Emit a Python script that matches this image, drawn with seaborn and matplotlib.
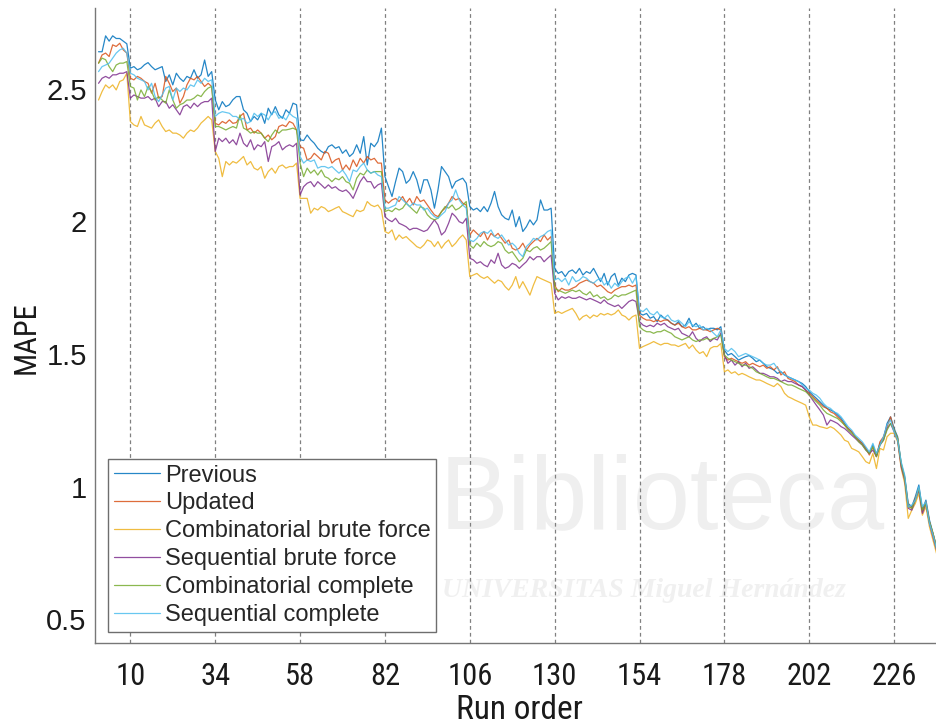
import matplotlib
matplotlib.use("Agg")
import matplotlib.pyplot as plt
import seaborn as sns
import pandas as pd

# Run index and MAPE per configuration
runs = list(range(1, 239))

previous = [
    2.64, 2.64, 2.70, 2.68, 2.70, 2.69, 2.69, 2.68, 2.67,
    2.578, 2.584, 2.572, 2.578, 2.591, 2.599, 2.584, 2.572, 2.578, 2.584, 2.528, 2.553,
    2.515, 2.559, 2.540, 2.528, 2.547, 2.540, 2.572, 2.540, 2.553, 2.609, 2.547, 2.565,
    2.459, 2.421, 2.452, 2.433, 2.440, 2.459, 2.471, 2.471, 2.421, 2.408, 2.377, 2.396,
    2.383, 2.408, 2.370, 2.427, 2.402, 2.433, 2.402, 2.389, 2.421, 2.408, 2.446, 2.440,
    2.308, 2.305, 2.326, 2.308, 2.295, 2.276, 2.264, 2.257, 2.282, 2.289, 2.276, 2.282,
    2.257, 2.270, 2.245, 2.257, 2.289, 2.257, 2.320, 2.213, 2.295, 2.282, 2.301, 2.352,
    2.169, 2.131, 2.094, 2.150, 2.201, 2.188, 2.144, 2.157, 2.188, 2.157, 2.106, 2.157,
    2.157, 2.119, 2.050, 2.119, 2.207, 2.188, 2.169, 2.125, 2.150, 2.157, 2.163, 2.144,
    2.056, 2.043, 2.050, 2.037, 2.056, 2.037, 2.069, 2.113, 2.056, 2.025, 2.012, 2.006,
    2.043, 1.980, 2.018, 1.962, 1.980, 2.006, 1.987, 2.006, 2.081, 2.043, 2.043, 2.050,
    1.823, 1.804, 1.811, 1.792, 1.811, 1.817, 1.804, 1.823, 1.798, 1.811, 1.804, 1.823,
    1.798, 1.773, 1.804, 1.760, 1.792, 1.804, 1.760, 1.786, 1.773, 1.798, 1.804, 1.798,
    1.653, 1.647, 1.653, 1.635, 1.641, 1.622, 1.647, 1.635, 1.628, 1.616, 1.609, 1.622,
    1.603, 1.609, 1.635, 1.603, 1.616, 1.597, 1.603, 1.591, 1.597, 1.597, 1.591, 1.603,
    1.515, 1.496, 1.502, 1.490, 1.477, 1.484, 1.490, 1.494, 1.484, 1.471, 1.477, 1.465,
    1.452, 1.446, 1.440, 1.427, 1.433, 1.421, 1.414, 1.408, 1.402, 1.396, 1.389, 1.377,
    1.358, 1.345, 1.333, 1.320, 1.307, 1.295, 1.289, 1.282, 1.270, 1.257, 1.238, 1.219,
    1.207, 1.188, 1.175, 1.163, 1.144, 1.125, 1.157, 1.119, 1.163, 1.182, 1.238, 1.263,
    1.219, 1.188, 1.087, 1.037, 0.936, 0.924, 0.962, 1.006, 0.911, 0.949, 0.874, 0.823, 0.773,
]

updated = [
    2.597, 2.628, 2.635, 2.622, 2.666, 2.660, 2.672, 2.647, 2.635,
    2.540, 2.534, 2.547, 2.540, 2.528, 2.521, 2.484, 2.521, 2.465, 2.471, 2.547, 2.521,
    2.490, 2.503, 2.446, 2.471, 2.515, 2.540, 2.534, 2.547, 2.528, 2.509, 2.521, 2.509,
    2.370, 2.364, 2.377, 2.370, 2.383, 2.370, 2.373, 2.396, 2.408, 2.345, 2.352, 2.333,
    2.345, 2.333, 2.314, 2.326, 2.308, 2.320, 2.358, 2.364, 2.358, 2.377, 2.370, 2.345,
    2.282, 2.276, 2.232, 2.238, 2.257, 2.245, 2.232, 2.264, 2.257, 2.220, 2.232, 2.238,
    2.194, 2.213, 2.194, 2.232, 2.207, 2.238, 2.220, 2.245, 2.232, 2.238, 2.220, 2.220,
    2.081, 2.069, 2.081, 2.087, 2.075, 2.094, 2.069, 2.087, 2.062, 2.094, 2.075, 2.081,
    2.062, 2.043, 2.025, 2.018, 2.037, 2.050, 2.069, 2.094, 2.081, 2.087, 2.069, 2.062,
    1.949, 1.968, 1.955, 1.943, 1.962, 1.930, 1.955, 1.943, 1.955, 1.936, 1.918, 1.930,
    1.899, 1.892, 1.899, 1.918, 1.892, 1.911, 1.924, 1.936, 1.924, 1.949, 1.930, 1.943,
    1.760, 1.735, 1.748, 1.741, 1.741, 1.748, 1.754, 1.767, 1.773, 1.779, 1.773, 1.767,
    1.754, 1.760, 1.748, 1.735, 1.729, 1.741, 1.748, 1.754, 1.754, 1.760, 1.754, 1.760,
    1.647, 1.635, 1.628, 1.628, 1.622, 1.628, 1.622, 1.628, 1.628, 1.616, 1.609, 1.616,
    1.603, 1.597, 1.603, 1.591, 1.591, 1.597, 1.591, 1.591, 1.584, 1.591, 1.597, 1.591,
    1.490, 1.477, 1.484, 1.477, 1.471, 1.465, 1.471, 1.458, 1.465, 1.458, 1.452, 1.458,
    1.446, 1.452, 1.440, 1.452, 1.421, 1.433, 1.408, 1.402, 1.396, 1.383, 1.377, 1.364,
    1.352, 1.339, 1.326, 1.314, 1.301, 1.295, 1.282, 1.276, 1.263, 1.251, 1.232, 1.219,
    1.207, 1.188, 1.175, 1.163, 1.144, 1.119, 1.150, 1.113, 1.169, 1.188, 1.226, 1.263,
    1.213, 1.182, 1.081, 1.031, 0.930, 0.918, 0.955, 0.993, 0.905, 0.943, 0.867, 0.823, 0.773,
]

combinatorial_brute_force = [
    2.458, 2.490, 2.515, 2.503, 2.515, 2.496, 2.528, 2.534, 2.559,
    2.377, 2.364, 2.358, 2.396, 2.364, 2.358, 2.352, 2.371, 2.383, 2.358, 2.339, 2.345,
    2.333, 2.333, 2.326, 2.314, 2.333, 2.345, 2.339, 2.352, 2.371, 2.383, 2.396, 2.383,
    2.264, 2.238, 2.169, 2.226, 2.213, 2.226, 2.220, 2.232, 2.245, 2.213, 2.226, 2.201,
    2.194, 2.207, 2.163, 2.188, 2.201, 2.182, 2.207, 2.213, 2.201, 2.207, 2.207, 2.220,
    2.087, 2.087, 2.087, 2.031, 2.050, 2.043, 2.056, 2.050, 2.037, 2.043, 2.050, 2.056,
    2.037, 2.031, 2.024, 2.018, 2.043, 2.037, 2.043, 2.075, 2.062, 2.056, 2.062, 2.043,
    1.962, 1.955, 1.968, 1.930, 1.949, 1.936, 1.943, 1.930, 1.918, 1.905, 1.899, 1.911,
    1.930, 1.924, 1.905, 1.924, 1.899, 1.918, 1.930, 1.905, 1.918, 1.936, 1.949, 1.930,
    1.792, 1.798, 1.804, 1.792, 1.785, 1.792, 1.779, 1.767, 1.779, 1.773, 1.754, 1.741,
    1.760, 1.792, 1.748, 1.773, 1.748, 1.722, 1.760, 1.792, 1.785, 1.779, 1.773, 1.767,
    1.653, 1.660, 1.653, 1.660, 1.666, 1.672, 1.653, 1.628, 1.641, 1.647, 1.635, 1.647,
    1.641, 1.653, 1.647, 1.653, 1.647, 1.653, 1.666, 1.647, 1.641, 1.628, 1.641, 1.647,
    1.521, 1.528, 1.534, 1.540, 1.547, 1.540, 1.534, 1.540, 1.540, 1.534, 1.534, 1.528,
    1.534, 1.540, 1.521, 1.534, 1.515, 1.502, 1.509, 1.490, 1.521, 1.528, 1.528, 1.540,
    1.433, 1.440, 1.427, 1.433, 1.421, 1.427, 1.421, 1.414, 1.408, 1.402, 1.402, 1.396,
    1.389, 1.383, 1.377, 1.389, 1.377, 1.352, 1.339, 1.333, 1.326, 1.320, 1.314, 1.307,
    1.263, 1.232, 1.232, 1.226, 1.223, 1.219, 1.226, 1.219, 1.207, 1.194, 1.175, 1.169,
    1.144, 1.138, 1.131, 1.113, 1.094, 1.087, 1.125, 1.068, 1.144, 1.138, 1.188, 1.201,
    1.201, 1.169, 1.069, 1.012, 0.880, 0.911, 0.936, 0.974, 0.892, 0.924, 0.848, 0.798, 0.748,
]

sequential_brute_force = [
    2.521, 2.540, 2.547, 2.540, 2.553, 2.553, 2.559, 2.559, 2.565,
    2.465, 2.477, 2.471, 2.465, 2.465, 2.471, 2.458, 2.465, 2.433, 2.452, 2.452, 2.427,
    2.440, 2.421, 2.402, 2.433, 2.440, 2.427, 2.446, 2.433, 2.446, 2.452, 2.452, 2.465,
    2.264, 2.314, 2.301, 2.314, 2.295, 2.308, 2.289, 2.333, 2.295, 2.282, 2.308, 2.270,
    2.289, 2.282, 2.301, 2.226, 2.282, 2.289, 2.301, 2.270, 2.282, 2.289, 2.282, 2.295,
    2.100, 2.131, 2.144, 2.150, 2.131, 2.150, 2.138, 2.125, 2.138, 2.125, 2.131, 2.119,
    2.113, 2.119, 2.106, 2.087, 2.119, 2.150, 2.169, 2.150, 2.150, 2.125, 2.138, 2.144,
    2.018, 2.006, 1.999, 2.012, 1.993, 1.987, 1.980, 1.968, 1.974, 1.974, 1.968, 1.962,
    1.968, 1.987, 2.006, 1.987, 1.949, 1.962, 1.993, 2.031, 2.018, 1.999, 1.993, 2.012,
    1.861, 1.855, 1.842, 1.848, 1.836, 1.829, 1.855, 1.842, 1.880, 1.836, 1.823, 1.829,
    1.842, 1.836, 1.823, 1.836, 1.848, 1.867, 1.855, 1.867, 1.867, 1.848, 1.861, 1.873,
    1.729, 1.704, 1.716, 1.710, 1.716, 1.710, 1.710, 1.716, 1.710, 1.704, 1.710, 1.704,
    1.698, 1.691, 1.704, 1.691, 1.685, 1.679, 1.685, 1.672, 1.685, 1.698, 1.704, 1.698,
    1.622, 1.609, 1.603, 1.609, 1.603, 1.616, 1.609, 1.616, 1.603, 1.597, 1.591, 1.597,
    1.578, 1.572, 1.565, 1.584, 1.559, 1.547, 1.559, 1.565, 1.547, 1.559, 1.553, 1.578,
    1.496, 1.465, 1.477, 1.458, 1.471, 1.452, 1.465, 1.446, 1.452, 1.440, 1.427, 1.427,
    1.421, 1.414, 1.414, 1.408, 1.396, 1.402, 1.396, 1.396, 1.389, 1.383, 1.377, 1.364,
    1.345, 1.326, 1.307, 1.289, 1.270, 1.232, 1.251, 1.245, 1.238, 1.226, 1.219, 1.207,
    1.194, 1.182, 1.169, 1.157, 1.138, 1.125, 1.138, 1.113, 1.157, 1.175, 1.219, 1.238,
    1.207, 1.175, 1.075, 1.025, 0.918, 0.911, 0.949, 0.987, 0.899, 0.936, 0.861, 0.811, 0.760,
]

combinatorial_complete = [
    2.597, 2.616, 2.610, 2.584, 2.565, 2.590, 2.597, 2.597, 2.603,
    2.509, 2.503, 2.458, 2.496, 2.471, 2.509, 2.490, 2.458, 2.471, 2.458, 2.446, 2.496,
    2.458, 2.427, 2.440, 2.446, 2.458, 2.458, 2.465, 2.477, 2.471, 2.490, 2.503, 2.509,
    2.358, 2.358, 2.352, 2.345, 2.352, 2.358, 2.352, 2.402, 2.352, 2.345, 2.333, 2.339,
    2.333, 2.333, 2.314, 2.301, 2.326, 2.345, 2.333, 2.345, 2.345, 2.348, 2.352, 2.345,
    2.220, 2.169, 2.201, 2.182, 2.194, 2.175, 2.194, 2.169, 2.163, 2.150, 2.163, 2.157,
    2.169, 2.150, 2.144, 2.119, 2.163, 2.182, 2.175, 2.194, 2.182, 2.188, 2.188, 2.188,
    2.037, 2.043, 2.037, 2.050, 2.043, 2.050, 2.069, 2.056, 2.043, 2.031, 2.056, 2.050,
    2.025, 2.012, 2.006, 2.012, 2.037, 2.056, 2.050, 2.062, 2.043, 2.050, 2.062, 2.075,
    1.911, 1.899, 1.918, 1.905, 1.924, 1.911, 1.905, 1.911, 1.924, 1.918, 1.892, 1.880,
    1.886, 1.867, 1.848, 1.861, 1.892, 1.886, 1.899, 1.905, 1.892, 1.899, 1.911, 1.924,
    1.748, 1.741, 1.735, 1.729, 1.735, 1.741, 1.735, 1.741, 1.729, 1.723, 1.735, 1.716,
    1.723, 1.710, 1.716, 1.704, 1.710, 1.723, 1.716, 1.723, 1.723, 1.729, 1.735, 1.741,
    1.603, 1.591, 1.584, 1.584, 1.578, 1.584, 1.584, 1.591, 1.584, 1.578, 1.565, 1.559,
    1.553, 1.559, 1.565, 1.553, 1.547, 1.553, 1.553, 1.559, 1.553, 1.559, 1.565, 1.572,
    1.496, 1.484, 1.477, 1.471, 1.465, 1.458, 1.458, 1.452, 1.446, 1.433, 1.427, 1.421,
    1.414, 1.408, 1.408, 1.402, 1.396, 1.389, 1.383, 1.383, 1.377, 1.370, 1.364, 1.358,
    1.345, 1.333, 1.320, 1.307, 1.289, 1.276, 1.270, 1.263, 1.257, 1.245, 1.232, 1.213,
    1.201, 1.188, 1.169, 1.157, 1.138, 1.125, 1.150, 1.113, 1.157, 1.175, 1.213, 1.238,
    1.213, 1.182, 1.087, 1.031, 0.924, 0.918, 0.949, 0.993, 0.911, 0.936, 0.867, 0.823, 0.767,
]

sequential_complete = [
    2.565, 2.584, 2.590, 2.597, 2.616, 2.635, 2.647, 2.653, 2.635,
    2.559, 2.553, 2.540, 2.534, 2.528, 2.496, 2.521, 2.471, 2.452, 2.477, 2.503, 2.509,
    2.458, 2.503, 2.490, 2.503, 2.496, 2.515, 2.509, 2.534, 2.521, 2.540, 2.528, 2.534,
    2.396, 2.408, 2.414, 2.411, 2.408, 2.396, 2.396, 2.383, 2.389, 2.370, 2.377, 2.408,
    2.396, 2.408, 2.402, 2.383, 2.408, 2.414, 2.389, 2.396, 2.383, 2.408, 2.396, 2.389,
    2.245, 2.220, 2.232, 2.226, 2.232, 2.201, 2.207, 2.207, 2.201, 2.207, 2.194, 2.182,
    2.194, 2.175, 2.150, 2.194, 2.188, 2.207, 2.220, 2.194, 2.182, 2.188, 2.175, 2.169,
    2.050, 2.050, 2.056, 2.062, 2.094, 2.081, 2.069, 2.056, 2.069, 2.062, 2.062, 2.043,
    2.050, 2.031, 2.018, 2.012, 2.025, 2.037, 2.069, 2.081, 2.119, 2.081, 2.062, 2.050,
    1.930, 1.924, 1.936, 1.955, 1.962, 1.955, 1.968, 1.943, 1.936, 1.949, 1.930, 1.911,
    1.918, 1.905, 1.880, 1.867, 1.905, 1.918, 1.936, 1.930, 1.943, 1.949, 1.962, 1.968,
    1.779, 1.786, 1.773, 1.786, 1.760, 1.792, 1.773, 1.779, 1.792, 1.786, 1.773, 1.767,
    1.779, 1.786, 1.760, 1.773, 1.748, 1.767, 1.754, 1.773, 1.786, 1.792, 1.767, 1.792,
    1.666, 1.660, 1.672, 1.653, 1.647, 1.660, 1.641, 1.635, 1.647, 1.628, 1.622, 1.628,
    1.616, 1.603, 1.622, 1.609, 1.603, 1.609, 1.591, 1.597, 1.591, 1.578, 1.565, 1.591,
    1.521, 1.509, 1.521, 1.509, 1.490, 1.496, 1.502, 1.496, 1.490, 1.484, 1.477, 1.465,
    1.458, 1.458, 1.465, 1.446, 1.433, 1.421, 1.414, 1.408, 1.402, 1.396, 1.383, 1.370,
    1.364, 1.352, 1.345, 1.333, 1.314, 1.301, 1.295, 1.282, 1.276, 1.263, 1.245, 1.226,
    1.213, 1.194, 1.182, 1.169, 1.150, 1.131, 1.163, 1.125, 1.157, 1.188, 1.232, 1.251,
    1.207, 1.175, 1.094, 1.043, 0.924, 0.930, 0.949, 0.999, 0.924, 0.943, 0.861, 0.817, 0.767,
]

methods = [
    "Previous",
    "Updated",
    "Combinatorial brute force",
    "Sequential brute force",
    "Combinatorial complete",
    "Sequential complete",
]
series = [previous, updated, combinatorial_brute_force,
          sequential_brute_force, combinatorial_complete, sequential_complete]
colors = ["#0072BD", "#D95319", "#EDB120", "#7E2F8E", "#77AC30", "#4DBEEE"]

block_starts = [10, 34, 58, 82, 106, 130, 154, 178, 202, 226]
y_ticks = [0.5, 1, 1.5, 2, 2.5]
y_tick_labels = ["0.5", "1", "1.5", "2", "2.5"]

# Long-form table for seaborn
df = pd.concat(
    [pd.DataFrame({"Run order": runs, "MAPE": vals, "Method": name})
     for name, vals in zip(methods, series)],
    ignore_index=True,
)

sns.set_style("white")
plt.rcParams["font.family"] = ["Liberation Sans", "DejaVu Sans"]
narrow = ["Roboto Condensed", "Liberation Sans Narrow", "Liberation Sans", "DejaVu Sans"]

W, H = 936, 725
fig = plt.figure(figsize=(W / 100, H / 100), dpi=100)
x0_px, x1_px = 95, 943.6
y0_px, y1_px = 643, 8
ax = fig.add_axes([x0_px / W, 1 - y0_px / H, (x1_px - x0_px) / W, (y0_px - y1_px) / H])

# faint library watermark behind the data
ax.text(440 / W, 1 - 528 / H, "Biblioteca", transform=fig.transFigure,
        fontsize=74, color="#efefef", ha="left", va="baseline", zorder=0.3,
        family=["Liberation Sans", "DejaVu Sans"])
ax.text(442 / W, 1 - 597 / H, "UNIVERSITAS Miguel Hernández", transform=fig.transFigure,
        fontsize=20, color="#f0f0f0", ha="left", va="baseline", zorder=0.3,
        style="italic", weight="bold", family=["Liberation Serif", "DejaVu Serif"])

for xb in block_starts:
    ax.axvline(xb, color="#808080", lw=0.9, ls=(0, (3, 2.5)), zorder=1)

sns.lineplot(data=df, x="Run order", y="MAPE", hue="Method", hue_order=methods,
             palette=colors, linewidth=0.9, alpha=0.85, ax=ax, legend=True, zorder=2)

ax.set_xlim(0, 240)
ax.set_ylim(0.41, 2.805)
ax.set_xticks(block_starts)
ax.set_xticklabels([str(v) for v in block_starts])
ax.set_yticks(y_ticks)
ax.set_yticklabels(y_tick_labels)

for side in ("top", "right"):
    ax.spines[side].set_visible(False)
for side in ("left", "bottom"):
    ax.spines[side].set_color("#777777")
    ax.spines[side].set_linewidth(1.0)

ax.tick_params(axis="both", direction="in", length=5, width=0.8, color="#444444",
               labelcolor="#1a1a1a")
ax.tick_params(axis="x", pad=14, labelsize=22)
ax.tick_params(axis="y", pad=6, labelsize=21)
for lab in ax.get_xticklabels():
    lab.set_family(narrow)

ax.set_xlabel("Run order", fontsize=24, family=narrow, color="#1a1a1a", labelpad=1.5)
ax.set_ylabel("MAPE", fontsize=22, family=narrow, color="#1a1a1a")
ax.yaxis.set_label_coords((41 - x0_px) / (x1_px - x0_px), (y0_px - 338) / (y0_px - y1_px))

handles, labels = ax.get_legend_handles_labels()
leg = ax.legend(handles, labels, loc="lower left",
                bbox_to_anchor=((108 - x0_px) / (x1_px - x0_px), (y0_px - 632) / (y0_px - y1_px)),
                borderaxespad=0, fontsize=17, frameon=True, fancybox=False,
                framealpha=1, edgecolor="#6e6e6e", borderpad=0.25, labelspacing=0.25,
                handlelength=1.95, handletextpad=0.2)
leg.get_frame().set_linewidth(1.0)

fig.savefig("out.png", dpi=100)
